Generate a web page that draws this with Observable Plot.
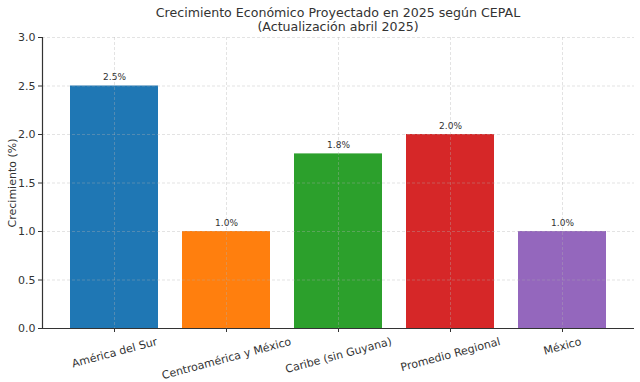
<!DOCTYPE html>
<html>
<head>
<meta charset="utf-8">
<script src="https://cdn.jsdelivr.net/npm/d3@7"></script>
<script src="https://cdn.jsdelivr.net/npm/@observablehq/plot@0.6"></script>
<style>
  html, body { margin: 0; padding: 0; background: white; }
  body { width: 640px; height: 382px; overflow: hidden; font-family: "DejaVu Sans", sans-serif; }
  #title { height: 34px; box-sizing: border-box; padding-top: 6px; padding-left: 36px; text-align: center; font-size: 12.6px; line-height: 14px; color: #333; }
  #chart svg { overflow: visible; }
</style>
</head>
<body>
<div id="title">Crecimiento Económico Proyectado en 2025 según CEPAL<br>(Actualización abril 2025)</div>
<div id="chart"></div>
<script>
const regions = ["América del Sur", "Centroamérica y México", "Caribe (sin Guyana)", "Promedio Regional", "México"];
const growth = [2.5, 1.0, 1.8, 2.0, 1.0];
const colors = ["#1f77b4", "#ff7f0e", "#2ca02c", "#d62728", "#9467bd"];
const yTicks = [0, 0.5, 1.0, 1.5, 2.0, 2.5, 3.0];

const data = regions.map((r, i) => ({region: r, value: growth[i], color: colors[i]}));

const font = "DejaVu Sans";
const ctx = document.createElement("canvas").getContext("2d");
ctx.font = `11px "${font}"`;
const ang = 15 * Math.PI / 180;
const labelMarks = regions.map(r => {
  const w = ctx.measureText(r).width;
  const H = w * Math.sin(ang) + 12 * Math.cos(ang);
  return Plot.text([r], {
    x: d => d, frameAnchor: "bottom", dy: 7 + H / 2, rotate: -15,
    textAnchor: "middle", lineAnchor: "middle", fontSize: 11, fill: "#333"
  });
});

const chart = Plot.plot({
  width: 640,
  height: 348,
  marginTop: 3,
  marginBottom: 54,
  marginLeft: 42,
  marginRight: 6,
  style: {fontFamily: font, background: "white", color: "#333"},
  x: {domain: regions, paddingInner: 0.214, paddingOuter: 0.24, axis: null},
  y: {domain: [0, 3], axis: null},
  marks: [
    Plot.barY(data, {x: "region", y: "value", fill: "color"}),
    Plot.gridY(yTicks, {stroke: "#b0b0b0", strokeOpacity: 0.45, strokeDasharray: "3,2", strokeWidth: 0.8}),
    Plot.gridX(regions, {stroke: "#b0b0b0", strokeOpacity: 0.45, strokeDasharray: "3,2", strokeWidth: 0.8}),
    Plot.text(data, {x: "region", y: "value", text: d => d.value.toFixed(1) + "%", lineAnchor: "bottom", dy: -6, fontSize: 9, fill: "#333"}),
    Plot.axisY({ticks: yTicks, tickFormat: d3.format(".1f"), tickSize: 4, tickPadding: 3, fontSize: 11, color: "#333", label: "Crecimiento (%)", labelAnchor: "center", labelArrow: "none", labelOffset: 34}),
    Plot.axisX({ticks: regions, tickSize: 4, tickFormat: () => "", stroke: "#333", label: null}),
    Plot.ruleY([0], {stroke: "#333", strokeWidth: 1.2}),
    Plot.frame({anchor: "left", stroke: "#333", strokeWidth: 1.2}),
    ...labelMarks
  ]
});
document.getElementById("chart").appendChild(chart);
</script>
</body>
</html>
